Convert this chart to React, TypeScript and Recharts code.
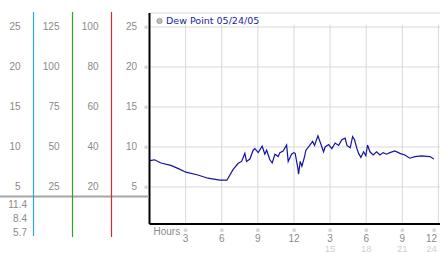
import { LineChart, Line, XAxis, YAxis, CartesianGrid, ReferenceLine, Legend } from "recharts";

// dew point readings, 24h clock
const hours = [
  0, 0.42, 0.95, 1.78, 2.4, 3.02, 4.02, 4.85, 5.85, 6.43,
  6.95, 7.37, 7.65, 7.92, 8.06, 8.34, 8.61, 8.75, 9.03, 9.36,
  9.58, 9.73, 10.0, 10.19, 10.42, 10.69, 10.83, 11.1, 11.39, 11.52,
  11.8, 11.99, 12.1, 12.33, 12.38, 12.52, 12.66, 12.88, 12.99, 13.21,
  13.35, 13.55, 13.71, 13.99, 14.18, 14.46, 14.59, 14.88, 15.15, 15.42,
  15.71, 15.98, 16.25, 16.4, 16.67, 16.87, 17.03, 17.23, 17.37, 17.56,
  17.78, 17.97, 18.11, 18.31, 18.58, 18.86, 19.14, 19.41, 19.69, 19.97,
  20.38, 20.8, 21.21, 21.62, 22.04, 22.6, 23.29, 23.62,
];
const dewPoint = [
  8.3, 8.4, 8.0, 7.7, 7.3, 6.85, 6.5, 6.1, 5.85, 5.85,
  7.2, 7.96, 8.2, 9.2, 8.2, 8.5, 9.6, 9.8, 9.3, 10.1,
  9.1, 9.6, 8.4, 8.0, 9.1, 8.8, 9.3, 9.5, 10.25, 8.2,
  9.1, 9.3, 9.2, 7.3, 6.6, 8.2, 7.6, 8.8, 9.6, 10.0,
  10.3, 10.7, 10.2, 11.4, 10.6, 9.4, 10.0, 10.3, 9.8, 10.5,
  10.2, 10.9, 11.1, 10.2, 9.9, 11.3, 10.9, 9.8, 9.2, 8.7,
  9.4, 8.9, 10.25, 9.4, 9.0, 9.4, 9.0, 9.3, 9.1, 9.3,
  9.5, 9.2, 9.0, 8.6, 8.8, 8.9, 8.8, 8.5,
];

const celsiusTicks = [5, 10, 15, 20, 25];
const col2Ticks = [25, 50, 75, 100, 125];
const col3Ticks = [20, 40, 60, 80, 100];
const hourTicks = [3, 6, 9, 12, 15, 18, 21, 24];
const summaryValues = ["11.4", "8.4", "5.7"];
const seriesName = "Dew Point 05/24/05";

const data = hours.map((h, i) => ({ hour: h, dew: dewPoint[i] }));

const Y_MIN = 0.375;
const Y_MAX = 26.75;
const FONT = '"Liberation Sans", Arial, sans-serif';
const LABEL = "#8a8a8a";

// left axes get stacked by id: "a" sits next to the plot, "d" on the far left
function ColTick({ x, y, payload, mark }: any) {
  return (
    <g>
      <text x={x} y={y} dy={2.6} textAnchor="end" fill={LABEL} fontSize={10} fontFamily={FONT}>
        {payload.value}
      </text>
      {mark && (
        <text x={x + 9} y={y} dy={1.6} textAnchor="middle" fill="#b5b5b5" fontSize={5.5} fontFamily="DejaVu Sans">
          ※
        </text>
      )}
    </g>
  );
}

function HourTick({ x, y, payload }: any) {
  const v = payload.value;
  const ax = v === 24 ? x - 2.5 : x;
  return (
    <g>
      <text x={x} y={y + 8} textAnchor="middle" fill="#b5b5b5" fontSize={5.5} fontFamily="DejaVu Sans">
        ※
      </text>
      <text x={ax} y={y + 18} textAnchor="middle" fill={LABEL} fontSize={10} fontFamily={FONT}>
        {v > 12 ? v - 12 : v}
      </text>
      {v > 12 && (
        <text x={ax} y={y + 27.5} textAnchor="middle" fill="#d0d0d0" fontSize={9.5} fontFamily={FONT}>
          {v}
        </text>
      )}
    </g>
  );
}

function LegendBox() {
  return (
    <div style={{ display: "flex", alignItems: "center", font: '9.5px "DejaVu Sans"', lineHeight: "9.5px", color: "#1c1ca8", whiteSpace: "nowrap" }}>
      <svg width={8} height={8} style={{ marginRight: 2 }}>
        <circle cx={3.5} cy={4} r={2.6} fill="#c0c0c0" stroke="#8c8c8c" strokeWidth={0.8} />
      </svg>
      {seriesName}
    </div>
  );
}

export default function App() {
  return (
    <div style={{ position: "absolute", left: 0, top: 0, width: 442, height: 253, background: "#fff" }}>
      <LineChart width={442} height={253} data={data} margin={{ top: 13, right: 2, bottom: 0, left: 0 }}>
        <CartesianGrid yAxisId="a" vertical={false} stroke="#d9d9d9" />
        <XAxis
          dataKey="hour"
          type="number"
          domain={[0, 24.13]}
          ticks={hourTicks}
          height={29}
          tickSize={0}
          tickMargin={0}
          tick={<HourTick />}
          axisLine={{ stroke: "#000", strokeWidth: 2 }}
          label={{ value: "Hours", position: "insideTopLeft", offset: 4, fill: LABEL, fontSize: 10, fontFamily: FONT }}
        />
        <YAxis
          yAxisId="a"
          width={38.5}
          domain={[Y_MIN, Y_MAX]}
          ticks={celsiusTicks}
          allowDataOverflow
          tickSize={0}
          tickMargin={12.5}
          tick={<ColTick mark />}
          axisLine={{ stroke: "#000", strokeWidth: 2 }}
        />
        <YAxis
          yAxisId="b"
          width={39}
          domain={[Y_MIN * 4, Y_MAX * 4]}
          ticks={col3Ticks}
          allowDataOverflow
          tickSize={0}
          tickMargin={12.5}
          tick={<ColTick />}
          axisLine={false}
        />
        <YAxis
          yAxisId="c"
          width={39}
          domain={[Y_MIN * 5, Y_MAX * 5]}
          ticks={col2Ticks}
          allowDataOverflow
          tickSize={0}
          tickMargin={12.5}
          tick={<ColTick />}
          axisLine={false}
        />
        <YAxis
          yAxisId="d"
          width={33}
          domain={[Y_MIN, Y_MAX]}
          ticks={celsiusTicks}
          allowDataOverflow
          tickSize={0}
          tickMargin={12.5}
          tick={<ColTick />}
          axisLine={false}
        />
        {hourTicks.map((t) => (
          <ReferenceLine
            key={t}
            yAxisId="a"
            segment={[{ x: t, y: Y_MIN }, { x: t, y: 25.3 }]}
            stroke="#d9d9d9"
          />
        ))}
        <Legend
          layout="horizontal"
          verticalAlign="middle"
          align="center"
          content={<LegendBox />}
          wrapperStyle={{ left: 156, top: 16, width: 200, height: 12 }}
        />
        <Line
          yAxisId="a"
          dataKey="dew"
          name={seriesName}
          stroke="#1414a0"
          strokeWidth={1.2}
          dot={false}
          isAnimationActive={false}
        />
      </LineChart>
      <svg width={442} height={253} style={{ position: "absolute", left: 0, top: 0, pointerEvents: "none" }}>
        <line x1={0} x2={149} y1={196.5} y2={196.5} stroke="#a5a5a5" strokeWidth={2} />
        <line x1={33.5} x2={33.5} y1={12} y2={236} stroke="#2aa8e0" strokeWidth={1.2} />
        <line x1={72.5} x2={72.5} y1={12} y2={237} stroke="#2aa52a" strokeWidth={1.2} />
        <line x1={111.5} x2={111.5} y1={12} y2={237} stroke="#d42c2c" strokeWidth={1.2} />
        {summaryValues.map((s, i) => (
          <text key={s} x={27} y={208 + i * 14.2} textAnchor="end" fill={LABEL} fontSize={10} fontFamily={FONT}>
            {s}
          </text>
        ))}
      </svg>
    </div>
  );
}
